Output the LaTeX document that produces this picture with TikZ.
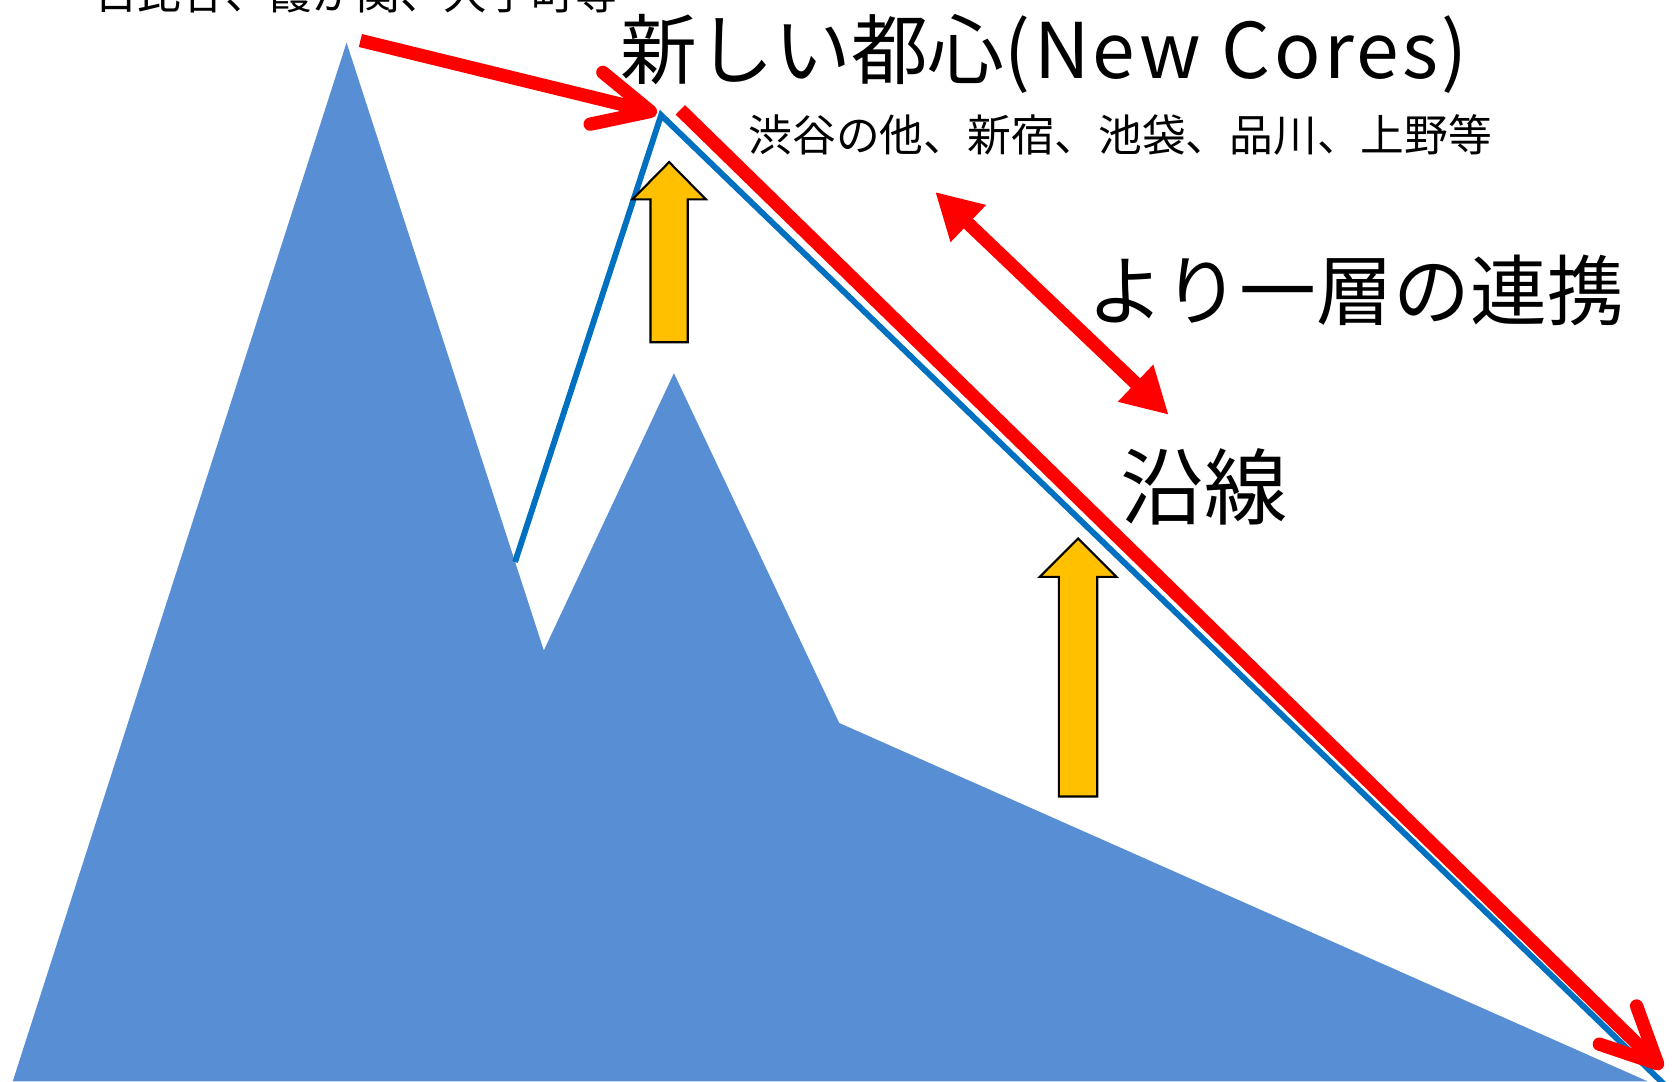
\documentclass[tikz,border=0pt]{standalone}
\usepackage{fontspec}
\newfontfamily\jp{Noto Sans CJK JP}
\usetikzlibrary{arrows.meta}
\definecolor{mtblue}{RGB}{88,142,212}
\definecolor{lineblue}{RGB}{0,112,192}
\definecolor{arrowyellow}{RGB}{255,192,0}
\definecolor{arrowred}{RGB}{255,0,0}
\tikzset{
  mountain/.style={fill=mtblue},
  ridge/.style={draw=lineblue, line width=5.5pt, line join=miter},
  redflow/.style={draw=arrowred, line width=12.5pt, line cap=butt,
    -{Straight Barb[length=52pt,width=50pt,round]}},
  reddouble/.style={draw=arrowred, line width=12.5pt,
    {Triangle[length=43pt,width=45pt]}-{Triangle[length=43pt,width=45pt]}},
  uparrow/.style={fill=arrowyellow, draw=black, line width=2pt, line join=miter},
  bigtext/.style={inner sep=0pt, anchor=base west, font=\jp\fontsize{72}{72}\selectfont},
  smalltext/.style={inner sep=0pt, anchor=base west, font=\jp\fontsize{41}{41}\selectfont}
}
\begin{document}
\begin{tikzpicture}[x=1pt,y=-1pt]
\useasboundingbox (0,0) rectangle (1568,1014);
\clip (0,0) rectangle (1568,1014);
\fill[white] (0,0) rectangle (1568,1014);
% mountain silhouette
\fill[mountain] (12,1014) -- (325,40) -- (510,610) -- (632,350) -- (787,678) -- (1545,1014) -- cycle;
% coordinates
\coordinate (b1) at (483,527);
\coordinate (b2) at (620,108);
\coordinate (b3) at (1567,1023);
\coordinate (r1s) at (338,38);
\coordinate (r1e) at (616,106);
\coordinate (r2s) at (638,103);
\coordinate (r2e) at (1559,1002);
\coordinate (d1) at (877,180);
\coordinate (d2) at (1096,389);
% blue ridge line
\draw[ridge] (b1) -- (b2) -- (b3);
% red arrows
\draw[redflow] (r1s) -- (r1e);
\draw[redflow] (r2s) -- (r2e);
\draw[reddouble] (d1) -- (d2);
% yellow up arrows
\draw[uparrow] (610,321) -- (610,187) -- (593,187) -- (627.5,152) -- (662,187) -- (645,187) -- (645,321) -- cycle;
\draw[uparrow] (993,747) -- (993,541) -- (975,541) -- (1011,505) -- (1047,541) -- (1029,541) -- (1029,747) -- cycle;
% texts
\node[smalltext] (old) at (88,9) {日比谷、霞が関、大手町等};
\node[bigtext] (title) at (582,74) {新しい都心{\addfontfeature{LetterSpace=4.5}(New Cores)}};
\node[smalltext] (sub) at (702,142) {渋谷の他、新宿、池袋、品川、上野等};
\node[bigtext] (link) at (1020,300) {より一層の連携};
\node[bigtext, font=\jp\fontsize{78}{78}\selectfont] (line) at (1051,486) {沿線};
\end{tikzpicture}
\end{document}
